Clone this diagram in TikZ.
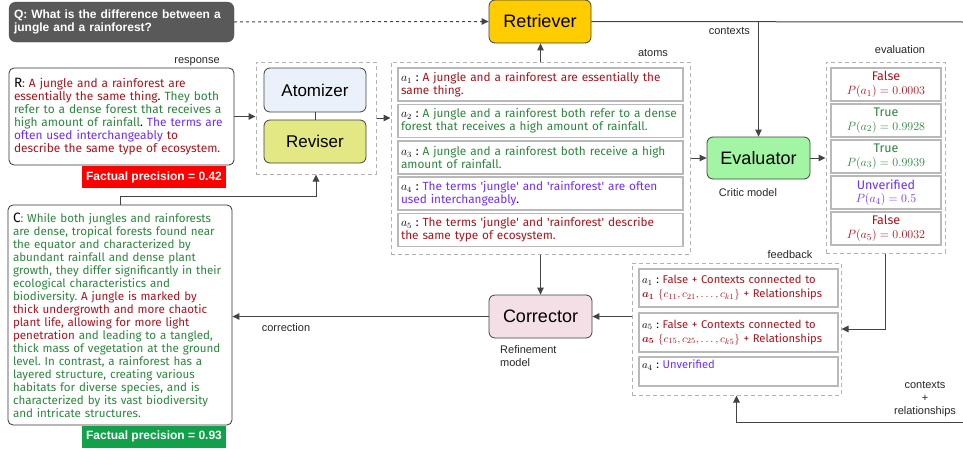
\documentclass[tikz,border=0pt]{standalone}
\usepackage{amsmath}
\usepackage{bm}
\usepackage{fontspec}
\setmainfont{Liberation Sans}
\newfontfamily\plex{Fira Sans}
\usetikzlibrary{arrows.meta}
\frenchspacing
\definecolor{cred}{HTML}{A3161F}
\definecolor{cgrn}{HTML}{2E8540}
\definecolor{cpur}{HTML}{7030F0}
\definecolor{qgray}{HTML}{595959}
\definecolor{retr}{HTML}{FFCC00}
\definecolor{atomz}{HTML}{EAF1FB}
\definecolor{revis}{HTML}{E4E884}
\definecolor{evalc}{HTML}{A2F5A2}
\definecolor{corr}{HTML}{F5DFE6}
\definecolor{lineg}{HTML}{444444}
\definecolor{fpred}{HTML}{FF0000}
\definecolor{fpgrn}{HTML}{12A14A}
\newcommand{\tred}[1]{{\color{cred}#1}}
\newcommand{\tgrn}[1]{{\color{cgrn}#1}}
\newcommand{\tpur}[1]{{\color{cpur}#1}}
\newcommand{\sq}{\textquotesingle}
\tikzset{
  modbox/.style={draw=black!75, rounded corners=6pt, line width=0.8pt, inner sep=0pt,
    font=\fontsize{18}{20}\selectfont},
  dbox/.style={draw=gray!60, line width=1pt, dash pattern=on 4pt off 3pt, inner sep=0pt},
  ibox/.style={draw=gray!55, line width=1.4pt, fill=white, inner sep=3pt, align=left,
    font=\plex\fontsize{11.8}{13}\selectfont},
  ebox/.style={draw=gray!55, line width=1.4pt, fill=white, inner sep=0pt, align=center,
    minimum width=110, minimum height=33, font=\plex\fontsize{12.5}{13.5}\selectfont},
  txtbox/.style={draw=black!80, rounded corners=5pt, line width=0.8pt, fill=white,
    inner sep=5pt, align=left, font=\plex\fontsize{11.6}{13}\selectfont},
  fpbox/.style={text=white, font=\bfseries\fontsize{12}{13}\selectfont,
    minimum width=144, minimum height=22, inner sep=0pt},
  conn/.style={draw=lineg, line width=1pt, -{Triangle[length=7pt,width=6.5pt]}},
  plain/.style={draw=lineg, line width=1pt},
  lbl/.style={font=\fontsize{11}{13}\selectfont, text=black!85, inner sep=0pt, align=center}
}
\begin{document}
\begin{tikzpicture}[x=1pt,y=-1pt]
\useasboundingbox (0,0) rectangle (963,450);

% Question
\node[fill=qgray, draw=black!70, rounded corners=7pt, text=white, inner sep=5pt,
  text width=215, minimum height=40, align=left,
  font=\bfseries\fontsize{12}{13.5}\selectfont] (Q) at (121.5,22)
  {Q: What is the difference between a\\jungle and a rainforest?};

% Retriever
\node[modbox, fill=retr, minimum width=102, minimum height=43] (Ret) at (540,21.5) {Retriever};
\draw[conn, dashed] (Q.east) -- (Ret.west);
\coordinate (rtE) at (963,22);
\coordinate (ctx) at (758.5,22);
\draw[plain] (Ret.east) -- (rtE);
\node[lbl, anchor=east] (Lctx) at (750,31) {contexts};

% Response
\node[lbl] (Lresp) at (197,62) {response};
\node[txtbox, minimum width=225, minimum height=97, text width=215, font=\plex\fontsize{11.9}{13}\selectfont] (R) at (121.5,116.5)
 {{\fontsize{13.5}{13}\selectfont R}\tred{: A jungle and a rainforest are}\\
  \tred{essentially the same thing}. \tgrn{They both}\\
  \tgrn{refer to a dense forest that receives a}\\
  \tgrn{high amount of rainfall}. \tpur{The terms are}\\
  \tpur{often used interchangeably} \tred{to}\\
  \tred{describe the same type of ecosystem.}};
\node[fpbox, fill=fpred] (FP1) at (154,177) {Factual precision = 0.42};

% Atomizer / Reviser
\node[dbox, minimum width=120, minimum height=112] (AR) at (316,118) {};
\node[modbox, fill=atomz, minimum width=102, minimum height=44, font=\fontsize{17}{19}\selectfont] (Atom) at (315,90) {Atomizer};
\node[modbox, fill=revis, minimum width=102, minimum height=43, font=\fontsize{17}{19}\selectfont] (Rev) at (315,141.5) {Reviser};
\draw[plain] (Atom.south) -- (Rev.north);
\draw[conn] (R.east) -- (R.east -| AR.west);

% Atoms
\node[lbl] (Latoms) at (653,53) {atoms};
\node[dbox, minimum width=299, minimum height=192] (AB) at (540.5,158) {};
\draw[conn] (AB.north) -- (AB.north |- Ret.south);
\draw[conn] (AR.east) -- (AR.east -| AB.west);
\node[ibox, minimum width=285, minimum height=33, text width=279] (a1) at (540.5,84.5)
 {$a_1$ : \tred{A jungle and a rainforest are essentially the}\\\tred{same thing.}};
\node[ibox, minimum width=285, minimum height=33, text width=279] (a2) at (540.5,121)
 {$a_2$ : \tgrn{A jungle and a rainforest both refer to a dense}\\\tgrn{forest that receives a high amount of rainfall.}};
\node[ibox, minimum width=285, minimum height=33, text width=279] (a3) at (540.5,157.5)
 {$a_3$ : \tgrn{A jungle and a rainforest both receive a high}\\\tgrn{amount of rainfall.}};
\node[ibox, minimum width=285, minimum height=33, text width=279] (a4) at (540.5,193.5)
 {$a_4$ : \tpur{The terms \sq jungle\sq\ and \sq rainforest\sq\ are often}\\\tpur{used interchangeably}.};
\node[ibox, minimum width=285, minimum height=33, text width=279] (a5) at (540.5,230)
 {$a_5$ : \tred{The terms \sq jungle\sq\ and \sq rainforest\sq\ describe}\\\tred{the same type of ecosystem.}};

% Evaluator
\node[modbox, fill=evalc, minimum width=103, minimum height=42] (Ev) at (758.5,158) {Evaluator};
\node[lbl] (Lcrit) at (748,193) {Critic model};
\draw[conn] (ctx) -- (ctx |- Ev.north);
\draw[conn] (AB.east |- Ev.west) -- (Ev.west);

% Evaluation
\node[lbl] (Leval) at (900,50) {evaluation};
\node[dbox, minimum width=119, minimum height=191] (EB) at (885.5,157.5) {};
\draw[conn] (Ev.east) -- (Ev.east -| EB.west);
\node[ebox] (e1) at (886,84.5) {\tred{False}\\\tred{$P(a_1) = 0.0003$}};
\node[ebox] (e2) at (886,120.5) {\tgrn{True}\\\tgrn{$P(a_2) = 0.9928$}};
\node[ebox] (e3) at (886,156.5) {\tgrn{True}\\\tgrn{$P(a_3) = 0.9939$}};
\node[ebox] (e4) at (886,192.5) {\tpur{Unverified}\\\tpur{$P(a_4) = 0.5$}};
\node[ebox] (e5) at (886,228.5) {\tred{False}\\\tred{$P(a_5) = 0.0032$}};

% Feedback
\node[lbl] (Lfb) at (790,255) {feedback};
\node[dbox, minimum width=209, minimum height=132] (FB) at (736.5,329) {};
\node[ibox, minimum width=199, minimum height=38, text width=193, font=\plex\fontsize{11.2}{14}\selectfont] (f1) at (738.5,288)
 {$a_1$ : \tred{False + Contexts connected to}\\\tred{$\bm{a_1}$ $\{c_{11}, c_{21}, \dots, c_{k1}\}$ + Relationships}};
\node[ibox, minimum width=199, minimum height=39, text width=193, font=\plex\fontsize{11.2}{14}\selectfont] (f2) at (738.5,332.5)
 {$a_5$ : \tred{False + Contexts connected to}\\\tred{$\bm{a_5}$ $\{c_{15}, c_{25}, \dots, c_{k5}\}$ + Relationships}};
\node[ibox, minimum width=199, minimum height=29, text width=193, font=\plex\fontsize{11.2}{14}\selectfont] (f3) at (738.5,371.5)
 {$a_4$ : \tpur{Unverified}\\\mbox{}};
\draw[conn] (EB.south) |- (FB.east);

% Corrector
\node[modbox, fill=corr, minimum width=103, minimum height=43] (Cor) at (540.5,316.5) {Corrector};
\node[lbl, anchor=north west, align=left] (Lref) at (500,345) {Refinement\\model};
\draw[conn] (AB.south) -- (Cor.north);
\draw[conn] (FB.west |- Cor.east) -- (Cor.east);

% Corrected response
\node[txtbox, minimum width=224, minimum height=220, text width=214] (C) at (120,315)
 {{\fontsize{13.5}{13}\selectfont C}\tgrn{: While both jungles and rainforests}\\
  \tgrn{are dense, tropical forests found near}\\
  \tgrn{the equator and characterized by}\\
  \tgrn{abundant rainfall and dense plant}\\
  \tgrn{growth, they differ significantly in their}\\
  \tgrn{ecological characteristics and}\\
  \tgrn{biodiversity.} \tred{A jungle is marked by}\\
  \tred{thick undergrowth and more chaotic}\\
  \tred{plant life, allowing for more light}\\
  \tred{penetration} \tgrn{and leading to a tangled,}\\
  \tgrn{thick mass of vegetation at the ground}\\
  \tgrn{level. In contrast, a rainforest has a}\\
  \tgrn{layered structure, creating various}\\
  \tgrn{habitats for diverse species, and is}\\
  \tgrn{characterized by its vast biodiversity}\\
  \tgrn{and intricate structures.}};
\node[fpbox, fill=fpgrn] (FP2) at (154,436.5) {Factual precision = 0.93};
\draw[conn] (Cor.west) -- (Cor.west -| C.east);
\node[lbl] (Lcorr) at (286,328) {correction};
\draw[conn] (C.north) -- ++(0,-8) -| (AR.south);

% contexts + relationships
\coordinate (crE) at (963,422);
\draw[conn] (crE) -| (FB.south);
\node[lbl] (Lcr) at (925,399) {contexts\\+\\relationships};
\end{tikzpicture}
\end{document}
